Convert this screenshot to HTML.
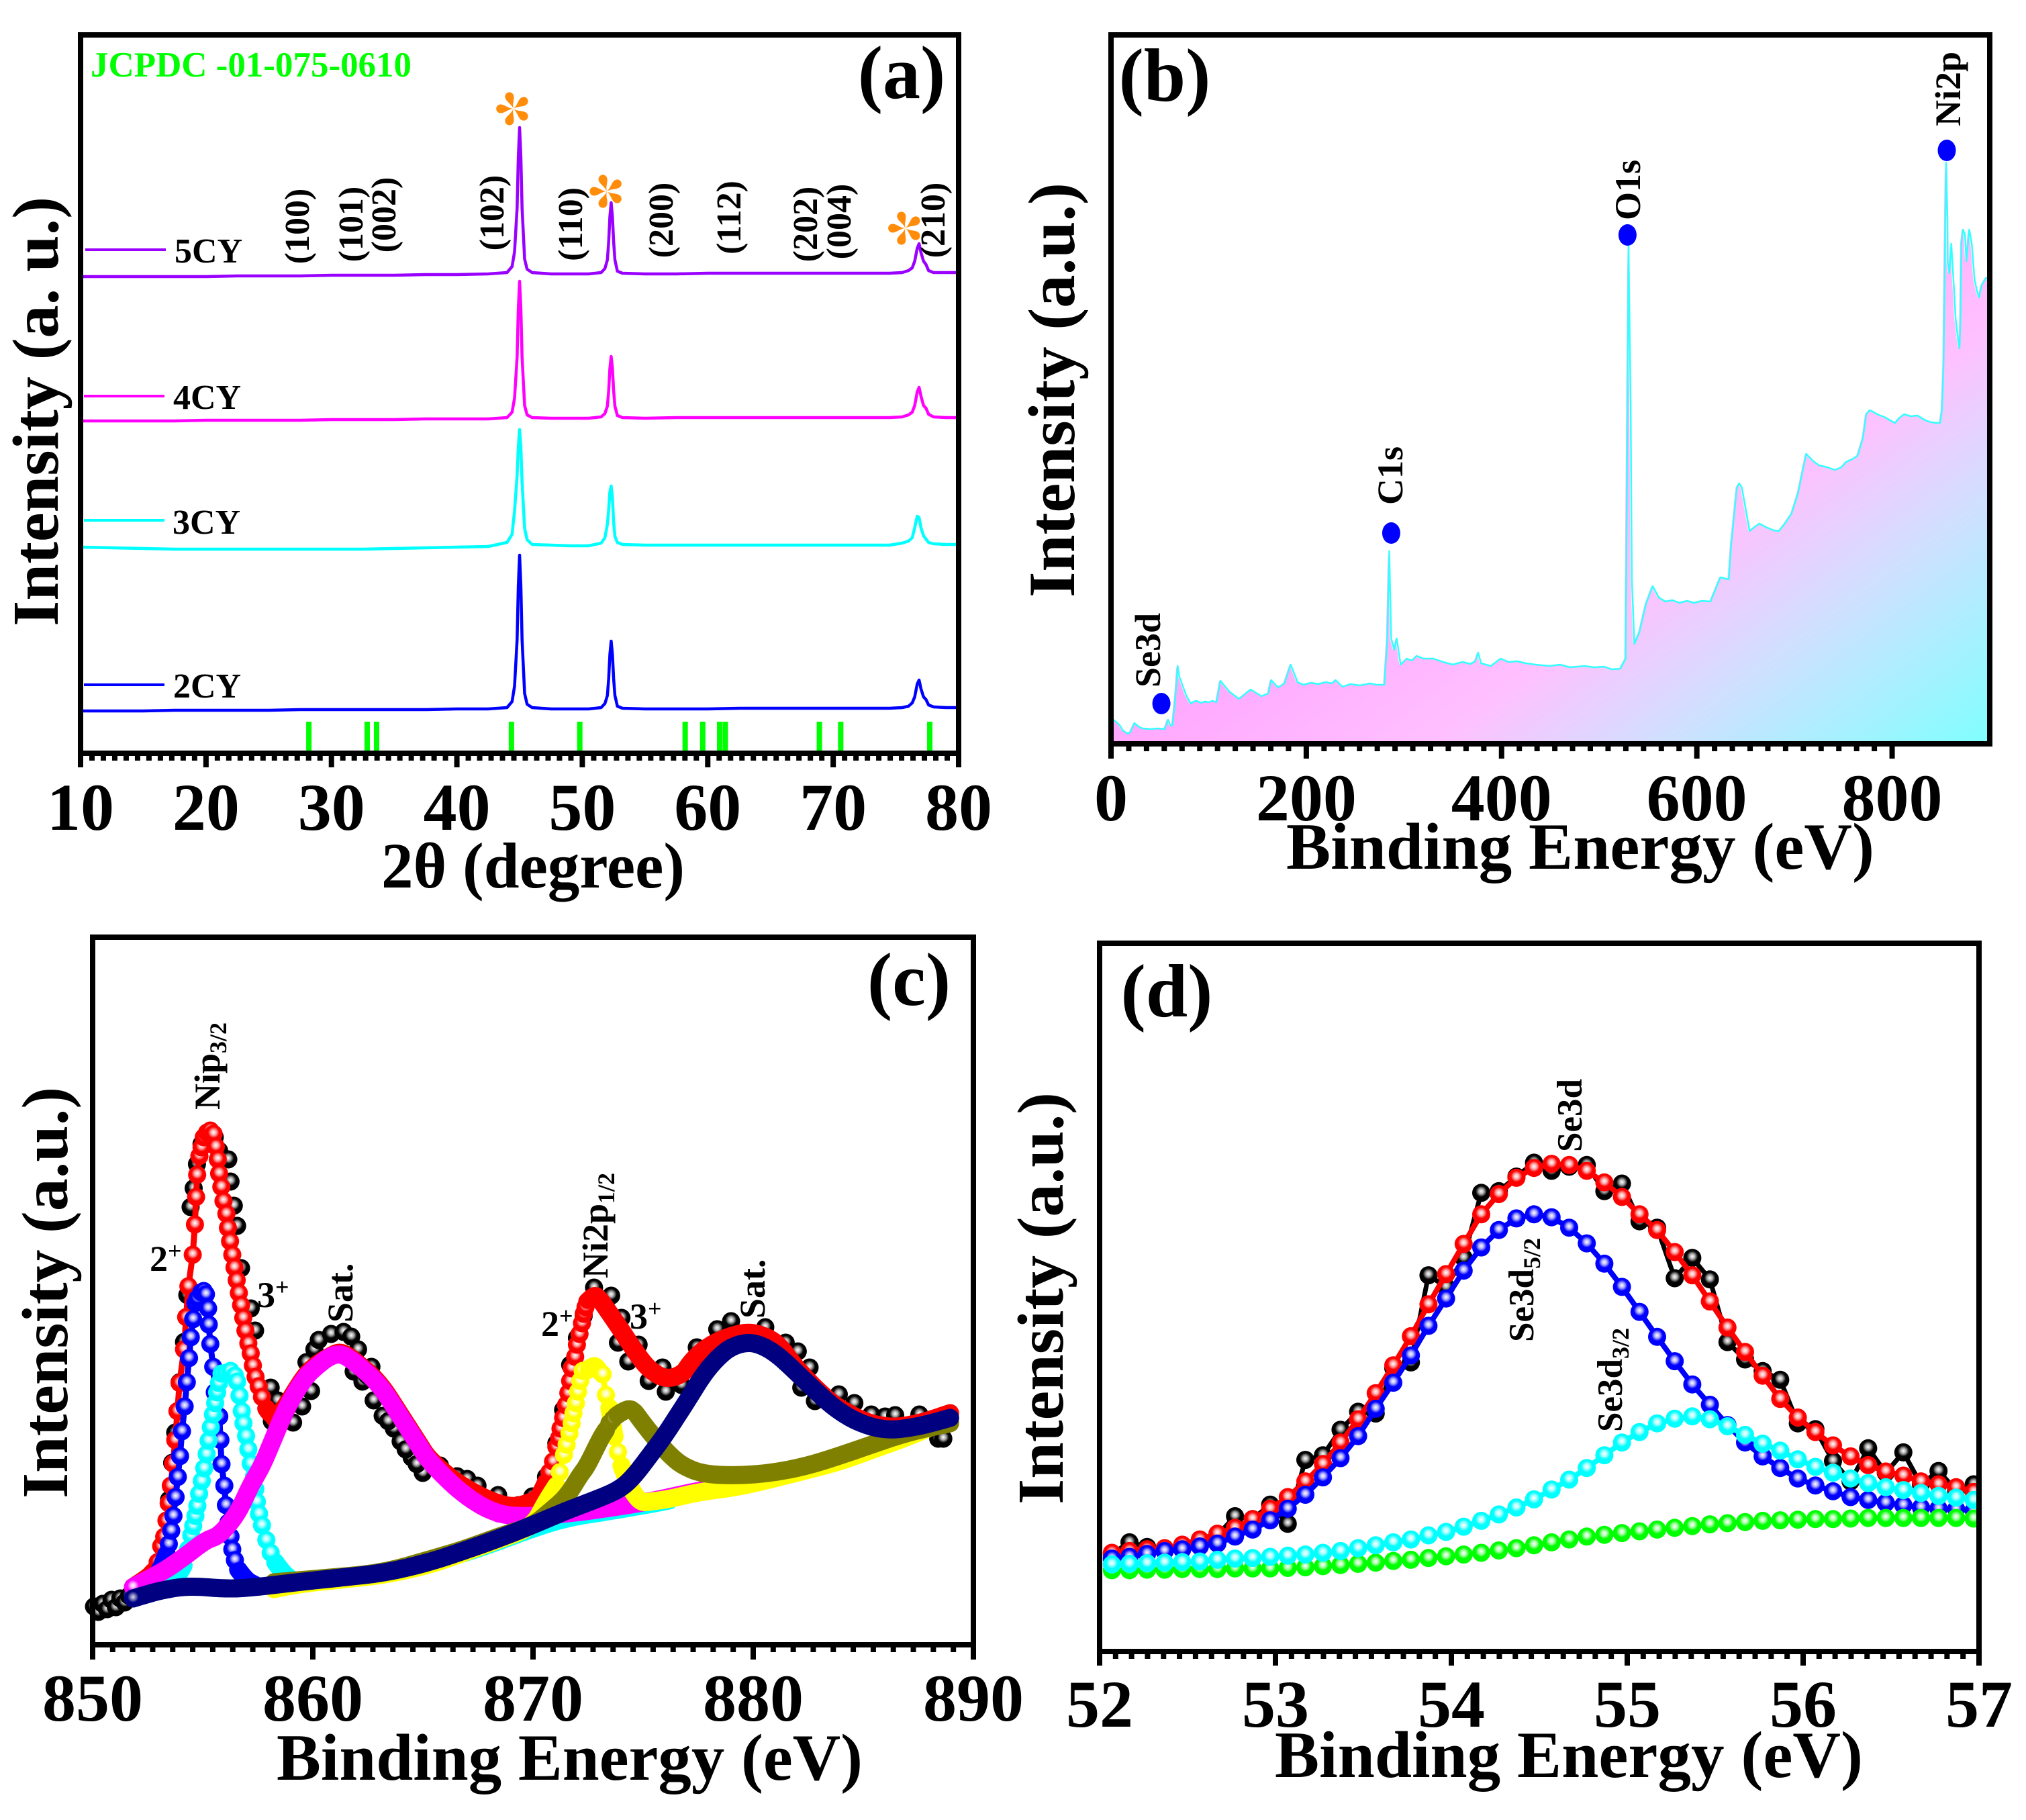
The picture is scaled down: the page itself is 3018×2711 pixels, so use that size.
<!DOCTYPE html>
<html lang="en">
<head>
<meta charset="utf-8">
<title>XRD and XPS characterisation panels</title>
<style>
html,body{margin:0;padding:0;background:#fff;}
svg{display:block;}
text{font-family:"Liberation Serif",serif;font-weight:bold;fill:#000;}
</style>
</head>
<body>
<svg id="chart" width="3018" height="2711" viewBox="0 0 3018 2711">
<defs>
<radialGradient id="g-black" cx=".5" cy=".42" r=".5"><stop offset="0" stop-color="#fff"/><stop offset=".3" stop-color="#aaa"/><stop offset=".62" stop-color="#000"/></radialGradient>
<radialGradient id="g-red" cx=".5" cy=".42" r=".5"><stop offset="0" stop-color="#fff"/><stop offset=".3" stop-color="#ffaaaa"/><stop offset=".62" stop-color="#ff0000"/></radialGradient>
<radialGradient id="g-blue" cx=".5" cy=".42" r=".5"><stop offset="0" stop-color="#fff"/><stop offset=".3" stop-color="#aaaaff"/><stop offset=".62" stop-color="#0000ff"/></radialGradient>
<radialGradient id="g-cyan" cx=".5" cy=".42" r=".5"><stop offset="0" stop-color="#fff"/><stop offset=".3" stop-color="#aaffff"/><stop offset=".62" stop-color="#00ffff"/></radialGradient>
<radialGradient id="g-magenta" cx=".5" cy=".42" r=".5"><stop offset="0" stop-color="#fff"/><stop offset=".3" stop-color="#ffaaff"/><stop offset=".62" stop-color="#ff00ff"/></radialGradient>
<radialGradient id="g-yellow" cx=".5" cy=".42" r=".5"><stop offset="0" stop-color="#fff"/><stop offset=".3" stop-color="#ffffaa"/><stop offset=".62" stop-color="#ffff00"/></radialGradient>
<radialGradient id="g-olive" cx=".5" cy=".42" r=".5"><stop offset="0" stop-color="#ddd"/><stop offset=".3" stop-color="#b5b566"/><stop offset=".62" stop-color="#808000"/></radialGradient>
<radialGradient id="g-navy" cx=".5" cy=".42" r=".5"><stop offset="0" stop-color="#ddd"/><stop offset=".3" stop-color="#7777bb"/><stop offset=".62" stop-color="#000080"/></radialGradient>
<radialGradient id="g-green" cx=".5" cy=".42" r=".5"><stop offset="0" stop-color="#fff"/><stop offset=".3" stop-color="#aaffaa"/><stop offset=".62" stop-color="#00ff00"/></radialGradient>
<linearGradient id="survey-fill" gradientUnits="userSpaceOnUse" x1="1655" y1="1108" x2="2125" y2="1734">
<stop offset="0" stop-color="#ffa8ff"/><stop offset=".37" stop-color="#ffc0ff"/><stop offset=".627" stop-color="#d0e0ff"/><stop offset="1" stop-color="#80ffff"/>
</linearGradient>
<clipPath id="clip-b"><rect x="1655" y="52" width="1309" height="1056"/></clipPath>
<clipPath id="clip-d"><rect x="1638" y="1405" width="1310" height="1055"/></clipPath>
</defs>

<g id="panel-a">
<g id="a-marks"></g>
<g id="a-axis"></g>
<rect x="120" y="52" width="1308" height="1070" fill="none" stroke="#000" stroke-width="8"/>
<text x="794" y="1322" font-size="96" text-anchor="middle" textLength="452" lengthAdjust="spacingAndGlyphs">2θ (degree)</text>
<text transform="translate(86,933) rotate(-90)" font-size="98" textLength="640" lengthAdjust="spacingAndGlyphs">Intensity (a. u.)</text>
<text x="1343" y="146" font-size="112" text-anchor="middle">(a)</text>
<text x="135" y="114" font-size="53" style="fill:#00ff00" textLength="478" lengthAdjust="spacingAndGlyphs">JCPDC -01-075-0610</text>
<g font-size="52">
<text x="260" y="391">5CY</text>
<text x="258" y="609">4CY</text>
<text x="257" y="795">3CY</text>
<text x="258" y="1039">2CY</text>
</g>
<line x1="127" x2="247" y1="372" y2="372" stroke="#9900ff" stroke-width="4"/>
<line x1="125" x2="245" y1="590" y2="590" stroke="#ff00ff" stroke-width="4"/>
<line x1="125" x2="245" y1="775" y2="775" stroke="#00ffff" stroke-width="4"/>
<line x1="125" x2="245" y1="1020" y2="1020" stroke="#0000ff" stroke-width="4"/>
<g font-size="52" text-anchor="middle">
<text transform="translate(460,337) rotate(-90)">(100)</text>
<text transform="translate(540,334) rotate(-90)">(101)</text>
<text transform="translate(589,320) rotate(-90)">(002)</text>
<text transform="translate(750,317) rotate(-90)">(102)</text>
<text transform="translate(867,334) rotate(-90)">(110)</text>
<text transform="translate(1002,328) rotate(-90)">(200)</text>
<text transform="translate(1103,324) rotate(-90)">(112)</text>
<text transform="translate(1217,334) rotate(-90)">(202)</text>
<text transform="translate(1267,330) rotate(-90)">(004)</text>
<text transform="translate(1407,328) rotate(-90)">(210)</text>
</g>
<g id="a-stars"></g>
</g>

<g id="panel-b">
<g id="b-marks" clip-path="url(#clip-b)"></g>
<g id="b-axis"></g>
<rect x="1655" y="52" width="1309" height="1056" fill="none" stroke="#000" stroke-width="8"/>
<g id="b-dots"></g>
<text x="1916" y="1294" font-size="99" textLength="876" lengthAdjust="spacingAndGlyphs">Binding Energy (eV)</text>
<text transform="translate(1600,890) rotate(-90)" font-size="99" textLength="618" lengthAdjust="spacingAndGlyphs">Intensity (a.u.)</text>
<text x="1735" y="150" font-size="112" text-anchor="middle">(b)</text>
<g font-size="54">
<text transform="translate(1728,1024) rotate(-90)">Se3d</text>
<text transform="translate(2089,752) rotate(-90)">C1s</text>
<text transform="translate(2443,328) rotate(-90)">O1s</text>
<text transform="translate(2920,188) rotate(-90)">Ni2p</text>
</g>
</g>

<g id="panel-c">
<g id="c-marks"></g>
<g id="c-axis"></g>
<rect x="138" y="1396" width="1312" height="1054" fill="none" stroke="#000" stroke-width="8"/>
<text x="412" y="2651" font-size="99" textLength="873" lengthAdjust="spacingAndGlyphs">Binding Energy (eV)</text>
<text transform="translate(100,2232) rotate(-90)" font-size="98" textLength="613" lengthAdjust="spacingAndGlyphs">Intensity (a.u.)</text>
<text x="1354" y="1497" font-size="112" text-anchor="middle">(c)</text>
<g font-size="54">
<text transform="translate(327,1653) rotate(-90)">Nip<tspan font-size="36" dy="10">3/2</tspan></text>
<text transform="translate(525,1970) rotate(-90)">Sat.</text>
<text transform="translate(905,1904) rotate(-90)">Ni2p<tspan font-size="36" dy="10">1/2</tspan></text>
<text transform="translate(1139,1964) rotate(-90)">Sat.</text>
<text x="223" y="1893">2<tspan font-size="36" dy="-18">+</tspan></text>
<text x="383" y="1947">3<tspan font-size="36" dy="-18">+</tspan></text>
<text x="806" y="1990">2<tspan font-size="36" dy="-18">+</tspan></text>
<text x="938" y="1979">3<tspan font-size="36" dy="-18">+</tspan></text>
</g>
</g>

<g id="panel-d">
<g id="d-marks" clip-path="url(#clip-d)"></g>
<g id="d-axis"></g>
<rect x="1638" y="1405" width="1310" height="1055" fill="none" stroke="#000" stroke-width="8"/>
<text x="1899" y="2647" font-size="99" textLength="876" lengthAdjust="spacingAndGlyphs">Binding Energy (eV)</text>
<text transform="translate(1583,2241) rotate(-90)" font-size="98" textLength="614" lengthAdjust="spacingAndGlyphs">Intensity (a.u.)</text>
<text x="1738" y="1514" font-size="112" text-anchor="middle">(d)</text>
<g font-size="53">
<text transform="translate(2356,1716) rotate(-90)">Se3d</text>
<text transform="translate(2284,1999) rotate(-90)">Se3d<tspan font-size="36" dy="10">5/2</tspan></text>
<text transform="translate(2416,2133) rotate(-90)">Se3d<tspan font-size="36" dy="10">3/2</tspan></text>
</g>
</g>
</svg>

<script>
// ---------- Panel (a) data ----------
const aTheta = [10,12.5,15,17.5,20,22.5,25,27.5,30,32.5,35,37.5,40,42.5,
44,44.4,44.6,44.8,44.9,45,45.1,45.2,45.4,45.6,46,
47.5,49,50.5,
51.5,51.8,52,52.1,52.2,52.3,52.4,52.5,52.6,52.8,53.2,
55,57.5,60,62.5,65,67.5,70,72.5,74.5,
75.5,76,76.3,76.5,76.7,76.85,77,77.2,77.4,77.6,78,
79,80];
const a5CY = [710,710,710,710,710,711,711,711,712,712,712,713,713,714,
716,725,747,812,888,932,888,812,736,721,716,
714,714,714,
716,722,735,762,799,820,799,762,735,718,715,
714,714,715,715,715,715,715,715,715,
716,719,723,733,752,759,746,733,728,719,716,
716,716];
const a4CY = [495,495,495,495,496,496,496,496,497,497,497,498,498,498,
500,508,529,590,662,703,662,590,518,504,500,
499,499,499,
501,506,517,540,573,591,573,540,517,503,500,
499,500,500,500,500,500,500,500,500,
501,504,508,518,538,545,532,518,514,505,501,
500,500];
const a3CY = [307,306,305,304,304,304,304,304,304,304,305,306,307,308,
314,326,361,413,456,482,456,404,335,318,311,
310,309,309,
313,321,341,363,389,398,380,345,323,314,311,
310,310,310,310,310,310,310,310,310,
313,316,321,336,353,351,336,324,319,314,312,
311,311];
const a2CY = [63,63,63,64,64,64,64,65,65,65,65,65,66,66,
68,77,100,169,249,295,249,169,89,73,68,
66,66,66,
68,74,86,111,147,167,147,111,86,70,67,
66,66,66,67,67,67,67,67,67,
68,70,75,84,103,109,96,84,80,72,69,
68,68];
const aReferenceAngles = [28.2,32.85,33.6,44.35,49.8,58.2,59.6,60.95,61.4,68.9,70.6,77.7];
const aReferenceHeight = [47];
const aStarAngles = [44.5,51.95,75.75];
const aStarLevels = [960,837,782];
const aTicks = [10,20,30,40,50,60,70,80];

// ---------- Panel (b) data ----------
const bEnergy = [2.2,5,8.8,12,17.4,20,24,28,32,40,48,55,58.4,61,63,66,68.3,70,73,77,81.6,85,88,92,96,100,104,108,
112,121,131,143,154,161,164,171,177.5,184,191,197,205,212,220,226,230,237,245,255,265,272,280,
283,285,287,290,292.6,296.6,303,308,313,320,330,340,350,360,368,373,376,379,389,399,407,416,425,435,449,460,470,485,495,505,513,521.6,527,
529.5,530,532.2,533.5,536,541,548,554.7,561,568,575,582,590,597,605,614,624,632.7,635,641,643.5,646,650,654,659,664,672,679,684,690,697,703.5,712,
718.5,725,733.5,741.5,748,753,759,764.5,770,773.5,777,780,786,792,798,803,807,812.4,819,826,834,840,846.5,849,851,852.7,853.8,855.3,856.7,857,858.7,860.6,862.8,865,867.5,869,870,871,872.6,874.6,876,879,881.6,884.4,887,889,891.7,896,900];
const bIntensity = [36,33,28,20,15,18,31,26,23,22,23,22,36,27,28,71,116,100,88,72,60,63,64,61,63,62,64,62,
94,78,67,81,71,75,95,84,90,118,92,88,91,89,92,90,95,85,89,87,90,88,88,
157,287,157,140,157,118,127,124,131,127,127,122,118,122,119,123,136,120,116,127,122,123,120,118,116,118,114,116,114,115,111,112,127,
600,745,503,244,149,166,209,235,218,212,214,210,213,210,213,212,248,245,295,382,388,382,350,317,323,328,322,318,317,328,343,373,432,
422,415,412,408,412,420,424,429,455,491,497,495,490,487,482,478,485,491,488,489,482,479,478,478,496,567,701,866,781,716,701,745,692,634,603,589,634,746,766,759,719,766,745,692,674,665,683,694,694];
const bPeakEnergy = [51.6,287,529,856];
const bPeakIntensity = [60,314,758,884];
const bTicks = [0,200,400,600,800];

// ---------- Panel (c) data ----------
const cBlackX = [850,850.2,850.4,850.6,850.8,851,851.2,851.4,851.6,853,853.2,853.42,853.56,853.7,853.9,854.1,854.25,854.4,854.54,854.69,854.9,855.2,855.5,855.7,856.12,856.22,856.37,856.52,856.7,856.9,857.14,857.34,858.05,858.1,858.36,859.07,859.48,859.68,859.89,860.04,860.24,860.8,861.37,861.72,861.83,862.03,862.23,862.64,862.74,863.15,863.66,863.97,864.47,864.98,865.76,866.54,867,867.47,868.41,869.35,869.97,870.59,871.06,871.37,871.69,872,872.31,872.78,873.56,873.87,874.03,874.34,874.81,875.27,875.9,876.05,876.76,877.46,878.39,879.02,880.58,881.51,882.06,882.22,882.6,882.84,883.93,884.64,885.41,886.04,886.5,887.6,888.46,888.69,862.45,863.4,864.2,864.7];
const cBlackY = [56,48,60,52,66,55,68,62,72,120,150,215,270,315,390,450,520,651,679,715,745,760,755,735,722,689,653,623,560,500,500,467,382,332,363,330,354,420,377,439,453,462,465,458,406,439,391,413,363,340,321,302,278,255,266,250,246,236,222,207,220,249,299,349,416,456,489,531,519,449,486,421,446,392,412,376,386,442,469,481,472,449,436,382,412,362,372,359,342,339,341,342,306,306,400,332,290,268];
const cRedX = [851.78,852.45,852.7,852.9,853.06,853.2,853.3,853.4,853.5,853.6,853.7,853.8,853.9,854.1,854.2,854.3,854.5,854.6,854.65,854.7,854.8,854.9,855,855.15,855.3,855.45,855.55,855.64,855.7,855.8,855.9,856.03,856.1,856.2,856.3,856.4,856.5,856.6,856.7,856.8,856.9,857.03,857.14,857.24,857.36,857.5,857.65,857.85,858.15,858.66,859.17,859.68,860.19,860.7,861.2,861.7,862.2,862.74,863.25,863.76,864.27,864.78,865.29,866.85,868.88,869.97,870.28,870.59,870.75,870.91,871.06,871.19,871.25,871.37,871.5,871.61,871.69,871.76,871.92,872,872.12,872.23,872.31,872.39,872.47,872.7,872.93,873.4,874.03,874.65,875.27,876.05,876.83,877.15,877.77,878.55,879.72,880.58,881.2,881.83,882.45,883.07,883.7,884.32,884.95,885.57,886.35,887.13,887.91,889];
const cRedY = [85,99,108,122,146,160,184,210,236,269,304,347,389,439,487,533,580,625,666,699,727,740,755,762,765,760,741,722,701,681,660,641,620,600,580,561,542,523,505,486,467,448,433,415,398,384,368,351,335,350,378,403,418,428,436,427,413,398,378,352,326,300,274,232,202,212,219,241,256,272,294,307,321,337,356,374,392,411,428,446,462,478,492,502,510,518,519,497,467,436,409,394,402,419,439,454,466,459,446,418,395,375,357,345,334,327,323,326,332,344];
const cBlueX = [851.78,852.34,852.96,853.31,853.41,853.52,853.62,853.72,853.82,853.92,854.01,854.13,854.23,854.33,854.41,854.52,854.62,854.72,854.89,855,855.1,855.2,855.23,855.3,855.43,855.5,855.71,855.76,855.81,855.94,856.01,856.12,856.22,856.3,856.42,856.57,856.93,857.34];
const cBlueY = [70,88,105,134,149,169,191,219,249,280,317,354,390,426,457,484,508,515,524,526,521,500,476,447,413,375,339,304,268,236,207,181,160,141,125,111,95,88];
const cCyanX = [853.06,853.77,854.08,854.28,854.43,854.52,854.62,854.71,854.79,854.91,855.02,855.13,855.22,855.32,855.42,855.52,855.61,855.69,855.81,856.01,856.22,856.42,856.52,856.63,856.73,856.81,856.93,857.03,857.14,857.29,857.35,857.42,857.52,857.65,857.85,858.05,858.26,858.56,858.97,859.38,861,864,866.85,868.41,869.97,871.53,873.09,875.27,876.2];
const cCyanY = [87,99,117,141,162,176,191,206,224,243,262,283,303,323,342,359,375,389,403,404,407,400,391,370,347,329,310,290,269,250,231,212,194,177,155,136,122,108,96,93,98,110,135,153,172,188,196,208,214];
const cMagentaX = [851.78,853.06,854.08,855.1,855.61,856.12,856.63,857.14,857.65,858.15,858.66,859.17,859.68,860.19,860.7,861.21,861.72,862.23,862.74,863.25,863.76,864.27,864.78,865.29,866.85,868.41,870,872,873.5,875.27,877.46,879];
const cMagentaY = [85,106,129,155,160,177,200,237,265,304,344,375,400,415,428,433,424,410,395,375,349,323,297,271,221,192,190,196,203,212,228,236];
const cYellowX = [858.2,859.2,861.2,863.25,865.29,866.85,868.41,869.97,870.59,871.06,871.22,871.41,871.53,871.66,871.76,871.84,871.95,872.05,872.15,872.26,872.47,872.78,873.01,873.17,873.32,873.48,873.71,873.87,874.03,874.34,874.65,874.96,875.27,876.21,877.46,879.33,880.89,882.45,884,885.57,887.13,889];
const cYellowY = [82,89,96,103,118,136,155,174,212,236,256,282,297,314,329,344,359,376,392,407,408,417,407,402,371,352,309,286,266,239,221,211,212,216,226,234,246,259,272,291,309,336];
const cOliveX = [858.2,861.2,863.25,865.29,866.85,868.41,869.97,870.75,871.53,872.15,872.39,872.62,872.86,873.09,873.32,873.48,873.64,873.79,874.03,874.5,874.96,875.59,876.21,876.83,877.77,879.33,880.89,882.45,884.01,885.41,887.13,889];
const cOliveY = [92,100,107,126,141,160,176,197,219,252,262,276,292,307,319,329,335,340,346,352,331,305,282,265,253,251,255,265,281,297,316,329];
const cNavyX = [851.78,852.5,853.06,854.3,856.1,857.4,859.2,861.2,863.25,865.29,866.85,868.41,869.97,871.53,873.09,874.03,874.65,875.27,875.9,876.52,877.15,877.77,878.39,879.02,879.8,880.42,881.05,881.67,882.3,882.92,883.54,884.17,884.79,885.57,886.35,887.13,887.91,889];
const cNavyY = [68,75,80,87,82,85,92,99,106,122,139,157,177,199,218,232,252,279,306,337,369,402,426,443,450,445,433,415,395,376,357,342,331,322,319,322,327,337];
const cTicks = [850,860,870,880,890];

// ---------- Panel (d) data ----------
const dEnergy = [52.07,52.17,52.27,52.37,52.47,52.57,52.67,52.77,52.87,52.97,53.07,53.17,53.27,53.37,53.47,53.57,53.67,53.77,53.87,53.97,54.07,54.17,54.27,54.37,54.47,54.57,54.67,54.77,54.87,54.97,55.07,55.17,55.27,55.37,55.47,55.57,55.67,55.77,55.87,55.97,56.07,56.17,56.27,56.37,56.47,56.57,56.67,56.77,56.87,56.97];
const dBlack = [190,210,202,195,202,210,222,255,250,275,242,352,360,404,435,432,510,520,670,650,700,812,815,840,864,850,857,860,815,828,763,752,665,700,663,555,525,505,490,415,405,350,315,372,330,365,310,333,300,310];
const dRed = [192,195,198,200,206,215,225,235,250,268,288,315,345,382,422,467,515,565,620,672,724,775,810,838,855,862,860,850,830,805,775,748,710,670,625,580,538,497,457,425,400,377,358,343,332,325,315,310,305,297];
const dBlue = [182,185,190,195,198,203,208,220,232,248,268,292,322,355,393,440,485,532,583,630,678,718,748,768,775,770,752,725,690,650,607,564,522,482,447,412,382,358,338,320,308,298,288,283,278,274,270,268,267,265];
const dGreen = [162,162,163,163,164,164,164,165,165,165,166,167,169,171,173,175,178,180,183,186,189,192,196,200,205,210,215,220,223,226,229,232,235,238,241,243,245,247,248,249,250,250,251,252,252,252,252,252,252,251];
const dCyan = [172,173,174,175,176,177,180,182,183,185,187,189,192,195,200,205,210,215,222,228,237,247,258,270,284,301,318,338,360,382,400,415,423,427,422,410,395,380,368,353,340,330,320,312,305,300,295,290,287,283];
const dTicks = [52,53,54,55,56,57];

// ---------- Axis functions ----------
function linear(d0, d1, r0, r1) {
  return function (v) { return r0 + (v - d0) * (r1 - r0) / (d1 - d0); };
}
const xA = linear(10, 80, 120, 1428);
const yA = linear(0, 1070, 1122, 52);
const xB = linear(0, 900, 1655, 2964);
const yB = linear(0, 1056, 1108, 52);
const xC = linear(850, 890, 140, 1448);
const xCTick = linear(850, 890, 138, 1450);
const yC = linear(0, 1055, 2449, 1394);
const xD = linear(52, 57, 1638, 2948);
const yD = linear(22, 1242, 2460, 1405);

const NS = document.getElementById('chart').namespaceURI;

function make(tag, parent, attrs) {
  const el = document.createElementNS(NS, tag);
  for (const k in attrs) el.setAttribute(k, attrs[k]);
  parent.appendChild(el);
  return el;
}

function drawAxis(groupId, ticks, xf, axisY, majorEnd, minorEnd, labelY, prefix) {
  const g = document.getElementById(groupId);
  const minors = 10;
  ticks.forEach(function (t, i) {
    const px = xf(t);
    const major = make('rect', g, {x: px - 4, y: axisY, width: 8, height: majorEnd - axisY, fill: '#000'});
    
    
    const label = make('text', g, {x: px, y: labelY, 'font-size': 100, 'text-anchor': 'middle'});
    label.textContent = String(t);
    
    
    if (i < ticks.length - 1) {
      const next = xf(ticks[i + 1]);
      for (let m = 1; m <= minors; m++) {
        const mx = px + (next - px) * m / (minors + 1);
        const minor = make('rect', g, {x: mx - 4, y: axisY, width: 8, height: minorEnd - axisY, fill: '#000'});
        
        
      }
    }
  });
}

function polyPath(xs, ys, xf, yf) {
  let d = '';
  for (let i = 0; i < xs.length; i++) {
    d += (i ? 'L' : 'M') + xf(xs[i]).toFixed(1) + ' ' + yf(ys[i]).toFixed(1);
  }
  return d;
}

// Smooth path through one run of points, using midpoints as on-curve anchors.
function smoothRun(xs, ys, xf, yf, from, to) {
  let d = 'M' + xf(xs[from]).toFixed(1) + ' ' + yf(ys[from]).toFixed(1);
  for (let k = from + 1; k < to; k++) {
    const mx = (xf(xs[k]) + xf(xs[k + 1])) / 2;
    const my = (yf(ys[k]) + yf(ys[k + 1])) / 2;
    d += 'Q' + xf(xs[k]).toFixed(1) + ' ' + yf(ys[k]).toFixed(1) + ' ' + mx.toFixed(1) + ' ' + my.toFixed(1);
  }
  d += 'L' + xf(xs[to]).toFixed(1) + ' ' + yf(ys[to]).toFixed(1);
  return d;
}

// Line + sphere markers. Stretches where samples are widely spaced in x read as a solid band.
function drawMarkers(parent, name, xs, ys, xf, yf, color, grad, opts) {
  const g = make('g', parent, {});
  
  
  const r = 13.5;
  const gapBand = 0.22;
  if (opts.line > 0) {
    const thin = make('path', g, {d: polyPath(xs, ys, xf, yf), fill: 'none', stroke: color, 'stroke-width': opts.line, 'stroke-linejoin': 'round'});
    
    
  }
  if (opts.band) {
    let d = '';
    let i = 0;
    while (i < xs.length - 1) {
      if (xs[i + 1] - xs[i] >= gapBand) {
        let j = i;
        while (j < xs.length - 1 && xs[j + 1] - xs[j] >= gapBand) j++;
        d += smoothRun(xs, ys, xf, yf, i, j);
        i = j;
      } else {
        i++;
      }
    }
    const band = make('path', g, {d: d, fill: 'none', stroke: color, 'stroke-width': r * 2, 'stroke-linecap': 'round', 'stroke-linejoin': 'round'});
    
    
  }
  for (let i = 0; i < xs.length; i++) {
    const wide = opts.band && i > 0 && ((i < xs.length - 1 && xs[i + 1] - xs[i] >= gapBand) || (xs[i] - xs[i - 1] >= gapBand));
    const c = make('circle', g, {cx: xf(xs[i]).toFixed(1), cy: yf(ys[i]).toFixed(1), r: wide ? r * 0.8 : r, fill: wide ? color : 'url(#' + grad + ')'});
    
    
  }
}

// ---------- Panel (a) ----------
const aGroup = document.getElementById('a-marks');
[[a5CY, '#9900ff', 'trace-5cy'], [a4CY, '#ff00ff', 'trace-4cy'], [a3CY, '#00ffff', 'trace-3cy'], [a2CY, '#0000ff', 'trace-2cy']].forEach(function (s) {
  const p = make('path', aGroup, {d: polyPath(aTheta, s[0], xA, yA), fill: 'none', stroke: s[1], 'stroke-width': 4.5, 'stroke-linejoin': 'round'});
  
  
});
aReferenceAngles.forEach(function (t) {
  const b = make('rect', aGroup, {x: xA(t) - 4, y: yA(aReferenceHeight[0]), width: 8, height: yA(0) - yA(aReferenceHeight[0]), fill: '#00ff00'});
  
  
});
drawAxis('a-axis', aTicks, xA, 1122, 1143, 1133, 1236, 'xrd-x');
const starGroup = document.getElementById('a-stars');
aStarAngles.forEach(function (t, i) {
  const s = make('g', starGroup, {transform: 'translate(' + xA(t).toFixed(1) + ',' + yA(aStarLevels[i]).toFixed(1) + ')', fill: '#ff8c0a'});
  
  
  [-108, -36, 36, 108, 180].forEach(function (a) {
    make('path', s, {d: 'M0 0C8 -.5 13 -6.5 19 -6.5A6.5 6.5 0 0 1 19 6.5C13 6.5 8 .5 0 0Z', transform: 'rotate(' + a + ')'});
  });
});

// ---------- Panel (b) ----------
const bGroup = document.getElementById('b-marks');
const base = xB(bEnergy[0]).toFixed(1) + ' ' + yB(0);
const fillPath = make('path', bGroup, {
  d: 'M' + base + polyPath(bEnergy, bIntensity, xB, yB).replace('M', 'L') + 'L' + xB(bEnergy[bEnergy.length - 1]).toFixed(1) + ' ' + yB(0) + 'Z',
  fill: 'url(#survey-fill)', transform: 'translate(-2,0)'});


const surveyLine = make('path', bGroup, {d: polyPath(bEnergy, bIntensity, xB, yB), fill: 'none', stroke: '#33ffff', 'stroke-width': 2.5, 'stroke-linejoin': 'round'});


drawAxis('b-axis', bTicks, xB, 1108, 1130, 1119, 1222, 'survey-x');
const dotGroup = document.getElementById('b-dots');
bPeakEnergy.forEach(function (e, i) {
  const dot = make('ellipse', dotGroup, {cx: xB(e), cy: yB(bPeakIntensity[i]), rx: 13.5, ry: 16, fill: '#0000ff'});
  
  
});

// ---------- Panel (c) ----------
const cGroup = document.getElementById('c-marks');
drawMarkers(cGroup, 'ni2p-raw-data', cBlackX, cBlackY, xC, yC, '#000000', 'g-black', {line: 0, band: false});
drawMarkers(cGroup, 'ni2p-envelope', cRedX, cRedY, xC, yC, '#ff0000', 'g-red', {line: 9, band: true});
drawMarkers(cGroup, 'ni2-plus-fit', cBlueX, cBlueY, xC, yC, '#0000ff', 'g-blue', {line: 9, band: true});
drawMarkers(cGroup, 'ni3-plus-fit', cCyanX, cCyanY, xC, yC, '#00ffff', 'g-cyan', {line: 9, band: true});
drawMarkers(cGroup, 'satellite-fit-1', cMagentaX, cMagentaY, xC, yC, '#ff00ff', 'g-magenta', {line: 9, band: true});
drawMarkers(cGroup, 'ni2-plus-fit-2', cYellowX, cYellowY, xC, yC, '#ffff00', 'g-yellow', {line: 9, band: true});
drawMarkers(cGroup, 'ni3-plus-fit-2', cOliveX, cOliveY, xC, yC, '#808000', 'g-olive', {line: 9, band: true});
drawMarkers(cGroup, 'satellite-fit-2', cNavyX, cNavyY, xC, yC, '#000080', 'g-navy', {line: 9, band: true});
drawAxis('c-axis', cTicks, xCTick, 2450, 2472, 2461, 2563, 'ni2p-x');

// ---------- Panel (d) ----------
const dGroup = document.getElementById('d-marks');
drawMarkers(dGroup, 'se3d-raw-data', dEnergy, dBlack, xD, yD, '#000000', 'g-black', {line: 7, band: false});
drawMarkers(dGroup, 'se3d-envelope', dEnergy, dRed, xD, yD, '#ff0000', 'g-red', {line: 8, band: false});
drawMarkers(dGroup, 'se3d52-fit', dEnergy, dBlue, xD, yD, '#0000ff', 'g-blue', {line: 8, band: false});
drawMarkers(dGroup, 'se3d-background', dEnergy, dGreen, xD, yD, '#00ff00', 'g-green', {line: 8, band: false});
drawMarkers(dGroup, 'se3d32-fit', dEnergy, dCyan, xD, yD, '#00ffff', 'g-cyan', {line: 8, band: false});
drawAxis('d-axis', dTicks, xD, 2460, 2481, 2471, 2572, 'se3d-x');
</script>
</body>
</html>
